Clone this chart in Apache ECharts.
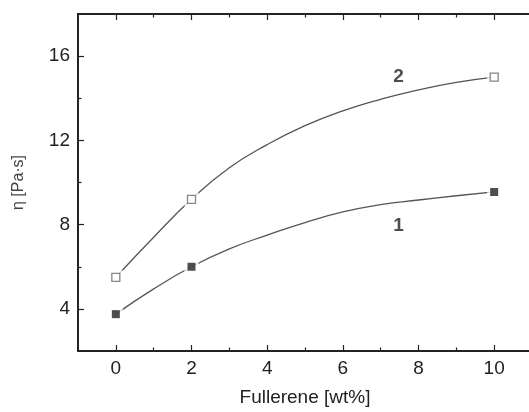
<!DOCTYPE html>
<html>
<head>
<meta charset="utf-8">
<script src="https://cdn.jsdelivr.net/npm/echarts@6/dist/echarts.min.js"></script>
<style>
html,body{margin:0;padding:0;background:#fff}
#wrap{position:relative;width:529px;height:412px;overflow:hidden}
#c{position:absolute;left:0;top:0;width:536px;height:412px}
</style>
</head>
<body>
<div id="wrap"><div id="c"></div></div>
<script>
// Measured points
const xPoints = [0, 2, 10];
const sample1 = [3.75, 6.0, 9.55];   // filled squares (1)
const sample2 = [5.5, 9.2, 15.0];    // open squares (2)
// Fitted curves
const curveX = [0, 1, 2, 3, 4, 5, 6, 7, 8, 9, 10];
const curve1 = [3.75, 4.95, 6.0, 6.85, 7.5, 8.1, 8.6, 8.95, 9.17, 9.37, 9.55];
const curve2 = [5.5, 7.4, 9.2, 10.7, 11.8, 12.7, 13.4, 13.95, 14.4, 14.75, 15.0];
// Tick labels
const xMajor = [0, 2, 4, 6, 8, 10];
const xMinor = [1, 3, 5, 7, 9];
const yMajor = [4, 8, 12, 16];
const yMinor = [6, 10, 14];
// Curve annotations
const curveLabels = [["2", 7.47, 15.0], ["1", 7.47, 7.96]];

const font = 'Liberation Sans, Arial, sans-serif';
const axisColor = '#222';
// Scale ticks fall on the minor values (min -1 / 2 with interval 2 / 4);
// their midpoints (minorTick) fall on the labelled major values.
function axisCommon(minorVals, majorVals, showLabels) {
  return {
    axisLine: {show: true, onZero: false, lineStyle: {color: axisColor, width: 2}},
    axisTick: {show: true, inside: true, length: 3.5, customValues: minorVals, lineStyle: {color: axisColor, width: 1.2}},
    minorTick: {show: true, splitNumber: 2, length: 6, lineStyle: {color: axisColor, width: 1.2}},
    axisLabel: {show: showLabels, customValues: majorVals, margin: 8, fontFamily: font, fontSize: 19, color: '#222'},
    splitLine: {show: false}, minorSplitLine: {show: false}
  };
}
const chart = echarts.init(document.getElementById('c'), null, {renderer: 'canvas'});
const pts1 = xPoints.map((x, i) => [x, sample1[i]]);
const pts2 = xPoints.map((x, i) => [x, sample2[i]]);
chart.setOption({
  animation: false,
  backgroundColor: '#fff',
  grid: {left: 78, top: 14, right: 4, bottom: 57, containLabel: false},
  xAxis: [
    Object.assign({type: 'value', position: 'bottom', min: -1, max: 11, interval: 2,
      name: 'Fullerene [wt%]', nameLocation: 'middle', nameGap: 37,
      nameTextStyle: {fontFamily: font, fontSize: 19, color: '#222'}}, axisCommon(xMinor, xMajor, true)),
    Object.assign({type: 'value', position: 'top', min: -1, max: 11, interval: 2}, axisCommon(xMinor, xMajor, false))
  ],
  yAxis: [
    Object.assign({type: 'value', position: 'left', min: 2, max: 18, interval: 4,
      name: 'η [Pa·s]', nameLocation: 'middle', nameGap: 51,
      nameTextStyle: {fontFamily: font, fontSize: 16, color: '#444'}}, axisCommon(yMinor, yMajor, true))
  ],
  series: [
    {type: 'line', data: curveX.map((x, i) => [x, curve1[i]]), smooth: 0.5, showSymbol: false,
     lineStyle: {color: '#555', width: 1.3}, z: 2},
    {type: 'line', data: curveX.map((x, i) => [x, curve2[i]]), smooth: 0.5, showSymbol: false,
     lineStyle: {color: '#555', width: 1.3}, z: 2},
    // white halos make the gaps around markers
    {type: 'scatter', data: pts1.concat(pts2), symbol: 'rect', symbolSize: 14,
     itemStyle: {color: '#fff'}, z: 3, silent: true},
    {type: 'scatter', data: pts1, symbol: 'rect', symbolSize: 8,
     itemStyle: {color: '#222'}, z: 4},
    {type: 'scatter', data: pts2, symbol: 'rect', symbolSize: 8,
     itemStyle: {color: '#fff', borderColor: '#666', borderWidth: 1.3}, z: 4},
    {type: 'scatter', data: curveLabels.map(d => ({value: [d[1], d[2]], name: d[0]})),
     symbolSize: 0, z: 5, silent: true,
     label: {show: true, position: 'inside', formatter: p => p.name,
             fontFamily: font, fontSize: 19, fontWeight: 'bold', color: '#222'}}
  ]
});
</script>
</body>
</html>
